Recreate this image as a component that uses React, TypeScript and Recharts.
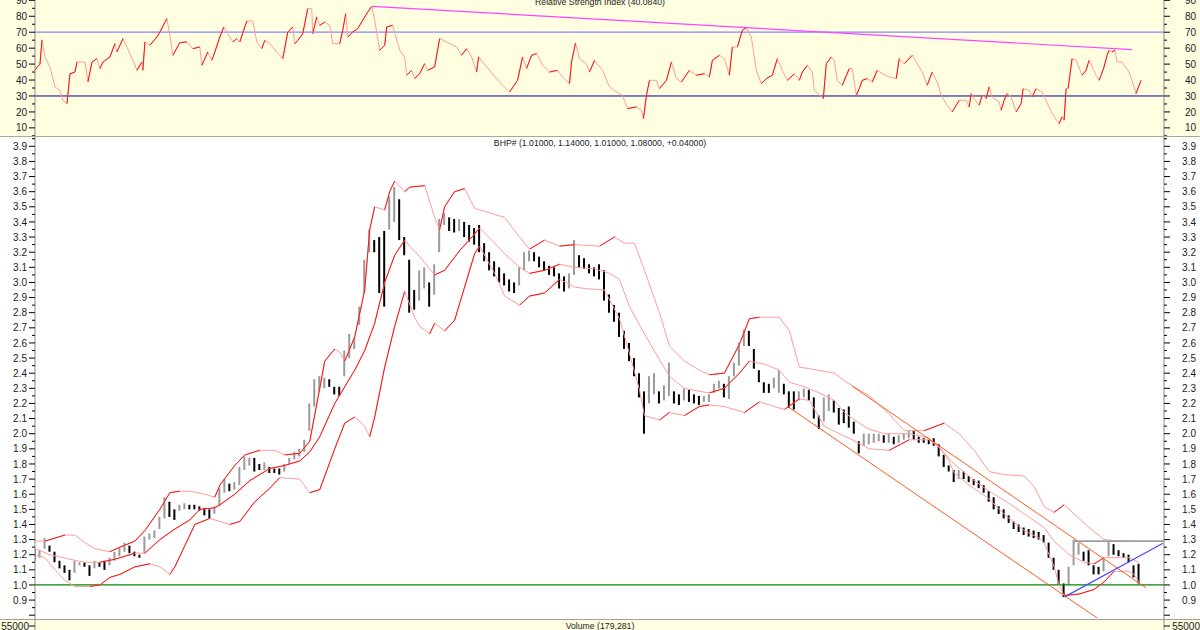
import React from 'react';
import { ComposedChart, Line, Bar, Cell, XAxis, YAxis, ReferenceLine } from 'recharts';

const FONT = '"Liberation Sans", Arial, sans-serif';

const priceTitle = 'BHP# (1.01000, 1.14000, 1.01000, 1.08000, +0.04000)';
const rsiTitle = 'Relative Strength Index (40.0840)';
const volumeTitle = 'Volume (179,281)';
const volumeTickLabel = '55000';

// bar-by-bar highs and lows (index 0..221)
const highs = [
  1.24,1.23,1.31,1.26,1.22,1.16,1.13,1.10,1.16,1.15,
  1.15,1.13,1.16,1.15,1.16,1.18,1.22,1.25,1.28,1.26,
  1.22,1.20,1.32,1.34,1.36,1.45,1.58,1.55,1.50,1.53,
  1.54,1.53,1.53,1.52,1.51,1.50,1.52,1.64,1.70,1.67,
  1.68,1.78,1.85,1.84,1.84,1.80,1.81,1.78,1.77,1.77,
  1.80,1.84,1.88,1.90,1.96,2.20,2.36,2.38,2.37,2.36,
  2.31,2.31,2.55,2.66,2.63,2.84,3.15,3.35,3.28,3.30,
  3.34,3.57,3.63,3.55,3.30,3.15,2.95,3.08,3.10,3.00,
  3.12,3.42,3.46,3.43,3.42,3.42,3.40,3.38,3.36,3.38,
  3.26,3.20,3.14,3.10,3.06,3.02,3.00,3.10,3.20,3.21,
  3.20,3.17,3.14,3.11,3.10,3.06,3.04,3.06,3.28,3.18,
  3.16,3.12,3.10,3.12,3.08,2.92,2.85,2.80,2.68,2.60,
  2.50,2.40,2.28,2.38,2.40,2.28,2.32,2.47,2.28,2.26,
  2.30,2.29,2.26,2.25,2.25,2.26,2.33,2.35,2.33,2.38,
  2.47,2.60,2.69,2.68,2.56,2.42,2.34,2.33,2.37,2.42,
  2.33,2.28,2.28,2.28,2.30,2.29,2.24,2.12,2.24,2.26,
  2.22,2.17,2.16,2.18,2.08,1.95,2.00,2.00,2.00,2.00,
  1.99,2.00,1.98,1.99,2.00,2.02,2.02,1.98,1.97,1.96,
  1.97,1.93,1.86,1.79,1.76,1.76,1.75,1.72,1.70,1.69,
  1.66,1.62,1.58,1.52,1.50,1.46,1.42,1.40,1.38,1.37,
  1.36,1.35,1.33,1.28,1.18,1.10,1.01,1.12,1.30,1.28,
  1.22,1.23,1.13,1.12,1.18,1.29,1.27,1.23,1.21,1.20,
  1.13,1.14,
];
const lows = [
  1.16,1.18,1.24,1.22,1.15,1.11,1.08,1.03,1.08,1.13,
  1.12,1.06,1.11,1.12,1.10,1.13,1.16,1.19,1.22,1.21,
  1.19,1.18,1.21,1.30,1.31,1.37,1.44,1.45,1.43,1.49,
  1.50,1.50,1.50,1.49,1.46,1.44,1.47,1.52,1.61,1.62,
  1.63,1.66,1.76,1.79,1.75,1.76,1.76,1.74,1.74,1.73,
  1.75,1.80,1.83,1.85,1.88,2.02,2.18,2.28,2.30,2.31,
  2.26,2.25,2.38,2.50,2.56,2.72,2.93,3.20,3.20,2.93,
  2.84,3.35,3.40,3.28,3.18,2.80,2.82,2.88,2.96,2.84,
  2.92,3.20,3.38,3.34,3.33,3.34,3.30,3.27,3.25,3.20,
  3.14,3.08,3.04,3.00,2.98,2.94,2.93,2.98,3.08,3.14,
  3.14,3.10,3.08,3.05,3.04,2.96,2.94,2.96,3.05,3.10,
  3.09,3.06,3.04,3.02,2.88,2.80,2.74,2.64,2.56,2.48,
  2.38,2.24,2.00,2.20,2.26,2.20,2.22,2.25,2.20,2.19,
  2.22,2.21,2.20,2.19,2.21,2.21,2.27,2.30,2.24,2.23,
  2.38,2.45,2.58,2.58,2.43,2.34,2.27,2.27,2.30,2.27,
  2.26,2.17,2.16,2.22,2.24,2.22,2.10,2.03,2.08,2.15,
  2.14,2.06,2.07,2.04,2.00,1.87,1.92,1.93,1.94,1.95,
  1.94,1.94,1.93,1.94,1.96,1.97,1.96,1.94,1.94,1.93,
  1.92,1.85,1.78,1.75,1.68,1.70,1.70,1.68,1.66,1.64,
  1.61,1.55,1.50,1.47,1.44,1.41,1.37,1.35,1.33,1.32,
  1.31,1.30,1.28,1.18,1.10,1.00,0.92,1.00,1.13,1.20,
  1.16,1.13,1.07,1.07,1.09,1.19,1.20,1.19,1.18,1.15,
  1.05,1.01,
];

// Bollinger bands: [bar index, price]
const upperBand: [number, number][] = [
  [0,1.29],[2,1.29],[4,1.31],[6,1.33],[8,1.33],[10,1.28],[12,1.24],[15,1.22],[17,1.25],[20,1.29],
  [22,1.36],[25,1.5],[27,1.61],[29,1.62],[31,1.62],[34,1.6],[36,1.58],[37,1.66],[40,1.79],[42,1.86],
  [45,1.89],[48,1.89],[50,1.86],[53,1.87],[55,1.95],[57,2.3],[58,2.48],[60,2.56],[61,2.54],[62,2.48],
  [64,2.64],[66,2.95],[67,3.35],[68,3.5],[70,3.48],[71,3.6],[72,3.67],[74,3.6],[75,3.63],[78,3.64],
  [80,3.43],[81,3.35],[82,3.5],[84,3.6],[86,3.62],[88,3.49],[90,3.47],[94,3.43],[97,3.3],[99,3.22],
  [102,3.28],[105,3.24],[108,3.25],[113,3.24],[116,3.3],[118,3.26],[120,3.26],[122,3.08],[125,2.8],[127,2.58],
  [130,2.48],[133,2.42],[135,2.39],[138,2.4],[141,2.59],[143,2.76],[145,2.77],[149,2.77],[151,2.68],[153,2.44],
  [155,2.43],[160,2.4],[162,2.35],[163,2.33],[167,2.25],[171,2.13],[174,2.02],[178,2.02],[182,2.07],[185,2.0],
  [188,1.89],[191,1.75],[194,1.73],[198,1.72],[200,1.65],[202,1.52],[204,1.48],[206,1.53],[209,1.44],[211,1.38],
  [214,1.3],[217,1.29],[220,1.29],
];
const middleBand: [number, number][] = [
  [0,1.24],[3,1.2],[7,1.17],[10,1.15],[13,1.15],[16,1.17],[20,1.21],[22,1.21],[25,1.3],[28,1.37],
  [31,1.43],[33,1.5],[36,1.51],[37,1.53],[40,1.6],[43,1.69],[47,1.77],[50,1.79],[53,1.82],[55,1.88],
  [57,1.98],[60,2.2],[64,2.42],[66,2.55],[68,2.73],[70,3.0],[72,3.18],[74,3.28],[75,3.24],[77,3.17],
  [78,3.13],[80,3.05],[82,3.08],[85,3.21],[88,3.32],[89,3.36],[92,3.26],[94,3.19],[97,3.1],[99,3.06],
  [102,3.08],[105,3.12],[108,3.1],[112,3.09],[115,3.06],[117,3.02],[119,2.84],[122,2.66],[125,2.49],[127,2.38],
  [130,2.3],[133,2.28],[135,2.27],[138,2.3],[141,2.4],[143,2.48],[146,2.46],[149,2.42],[151,2.34],[154,2.31],
  [157,2.27],[160,2.22],[162,2.14],[165,2.07],[167,2.03],[170,2.0],[175,2.0],[179,1.97],[181,1.91],[184,1.8],
  [188,1.69],[191,1.62],[195,1.54],[198,1.47],[202,1.38],[204,1.29],[207,1.2],[210,1.15],[212,1.14],[214,1.18],
  [216,1.18],[219,1.18],[221,1.15],
];
const lowerBand: [number, number][] = [
  [0,1.2],[2,1.18],[4,1.1],[6,1.03],[8,0.99],[11,0.99],[13,1.0],[15,1.05],[17,1.07],[20,1.12],
  [23,1.14],[25,1.12],[27,1.07],[28,1.12],[30,1.26],[32,1.4],[35,1.44],[37,1.42],[39,1.4],[41,1.42],
  [44,1.55],[47,1.64],[49,1.71],[53,1.7],[55,1.61],[57,1.63],[60,1.9],[62,2.07],[64,2.11],[66,2.05],
  [67,1.98],[68,2.11],[70,2.44],[72,2.71],[74,2.94],[76,2.77],[77,2.71],[79,2.66],[80,2.73],[82,2.68],
  [84,2.75],[86,2.97],[88,3.19],[89,3.24],[92,3.06],[94,2.91],[97,2.85],[99,2.91],[102,2.93],[105,3.02],
  [108,2.97],[110,2.96],[114,2.95],[117,2.76],[119,2.53],[121,2.29],[122,2.12],[125,2.09],[127,2.14],[130,2.12],
  [133,2.18],[135,2.19],[138,2.18],[142,2.14],[145,2.21],[147,2.19],[150,2.16],[153,2.23],[155,2.22],[158,2.05],
  [161,2.0],[163,1.97],[167,1.9],[171,1.89],[175,1.96],[179,1.96],[181,1.91],[183,1.82],[184,1.74],[187,1.66],
  [191,1.57],[193,1.5],[195,1.44],[198,1.36],[201,1.31],[202,1.28],[204,1.12],[205,1.0],[206,0.93],[209,0.94],
  [212,0.97],[214,1.02],[216,1.09],[219,1.09],[220,1.07],[221,1.02],
];

// RSI: [bar index, value]
const rsiPoints: [number, number][] = [
  [0,46],[0.4,48],[1,50],[1.4,65],[2,54.5],[3,48],[4,35.7],[5,33.6],[5.6,27],[6.4,25.2],
  [7,44],[8,45],[8.4,51.3],[10,51.3],[10.6,38.8],[11.4,51.3],[12.4,53.4],[13,47.2],[13.6,51.3],[15,54.5],
  [16,62.8],[16.4,57.6],[17.6,66],[18.4,60.7],[19.6,52.4],[20.4,46.1],[21.4,51.3],[21.6,46.1],[22,63.9],[23,61.8],
  [24.4,67],[25,70.1],[26.4,78.5],[27,68],[27.6,55.5],[29,63.5],[30.4,63.9],[31.6,59.7],[33,60.7],[33.4,49.2],
  [34,53.4],[34.6,57.6],[35.4,52.4],[36,57.6],[37,67],[37.8,73.3],[38.6,69.1],[39.6,63.9],[40.4,66],[41,63.9],
  [42.4,77],[43.6,77],[44.4,63.9],[45.4,59.7],[46,64.9],[47,62.8],[48.4,57.6],[49.6,53.4],[50.6,70.1],[51.6,73.3],
  [52,62.8],[52.6,64.9],[53.6,69.1],[54.6,84.8],[55.4,84.8],[55.6,69.1],[56.4,79.6],[57,74.3],[58,76.4],[59,74.3],
  [59.6,62.8],[61,62.8],[61.6,71.2],[62.2,81.6],[62.6,67],[63.6,70.1],[64.6,72.2],[66.4,81.6],[67.4,86.2],[68,77.5],
  [69,58.7],[70,61.8],[70.4,73.3],[71.6,74.3],[73,58.7],[74,54.5],[74.4,43],[75.4,46.1],[76,40.9],[77,44],
  [78,50.3],[78.6,46.1],[80,48.2],[81,66],[82.4,63.9],[84.4,60.7],[85.4,55.5],[86.4,59.7],[87.4,54.5],[88.4,45],
  [88.8,54.5],[90.4,48.2],[92.4,40.9],[93.6,36.7],[95,32.5],[96.6,39.8],[97.6,54.5],[98.4,47.2],[99.4,55.5],[100.4,56.6],
  [101.6,49.2],[103,45],[104.6,46.1],[105.6,41.9],[107,37.8],[107.4,51.3],[108.2,63.2],[109,53.4],[110.4,50.3],[111,45],
  [112,52.4],[113.6,46.1],[115,35.7],[116.4,32.5],[117.6,30.4],[118.6,22.1],[120.4,23.1],[121.4,21],[121.8,15.8],[122.4,30.4],
  [123,39.8],[124.4,39.8],[125,34.6],[126.4,39.8],[127.4,51.3],[128.4,40.9],[129.4,38.8],[131,46.1],[132.4,43],[134,44],
  [135,41.9],[135.6,52.4],[137,55.5],[138,53.4],[139,43],[139.6,60.7],[140.6,60.7],[141.6,71.2],[142.4,72.9],[143.4,67],
  [144.4,46.1],[145.4,37.8],[146.4,40.9],[147.6,43],[148.6,53.4],[149.6,46.1],[150.6,39.8],[152,44],[153,39.8],[153.6,45],
  [154.6,49.2],[155.6,45],[156,33.6],[157.4,29.4],[157.8,28.3],[158.4,50.3],[159.4,54.5],[160,52.4],[160.6,39.8],[161.6,36.7],
  [163,47.2],[163.6,47.2],[164.4,30.4],[165,34.6],[165.6,39.8],[166.6,40.9],[167.6,38.8],[168.6,46.1],[169.6,44],[171,41.9],
  [172.4,40.9],[173,53.4],[174,50.3],[175.6,55.5],[176.6,50.3],[177.6,45],[178.6,36.7],[179.6,45],[180.6,38.8],[181.4,30.4],
  [182.4,25.2],[183.6,20],[185,27.3],[186.4,27.3],[187,23.1],[187.4,31.5],[188.4,26.3],[189,24.2],[189.6,30.4],[190.4,28.3],
  [191,35.7],[191.6,29.4],[193,26.3],[193.4,21],[194,27.3],[194.6,31.5],[195.4,29.4],[196.4,20],[197.4,25.2],[197.8,34.6],
  [199,33.6],[199.6,29.4],[200.4,34.6],[201.6,32.5],[203.6,18.9],[205,12.7],[205.6,16.9],[206,14.8],[206.4,34.6],[206.8,34.6],
  [207.6,53.4],[208.4,52.4],[209.6,43],[210.4,46.1],[211,52.4],[211.6,48.2],[212.4,43],[213,39.8],[213.4,43],[214,48.2],
  [214.6,55.5],[215,58.7],[215.6,57.6],[216.2,58.7],[216.6,51.3],[217.6,51.3],[219,45],[219.6,39.8],[220.4,31.5],[221.4,39.8],
];

// drawn trend lines: [bar index, value]
const rsiTrend: [number, number][] = [[67.5, 86.2], [219.6, 59.1]];
const channelUpper: [number, number][] = [[163.5, 2.316], [222.4, 0.981]];
const channelLower: [number, number][] = [[150.7, 2.179], [212.6, 0.782]];
const supportLine: [number, number][] = [[206.2, 0.923], [225.8, 1.276]];
const resistanceLine: [number, number][] = [[207.8, 1.29], [226, 1.29]];
const baseLevel = 1.0;
const rsiUpper = 70;
const rsiLower = 30;

const priceTicks = [
  0.8,0.85,0.9,0.95,1.0,1.05,1.1,1.15,1.2,1.25,1.3,1.35,1.4,1.45,1.5,1.55,1.6,1.65,1.7,1.75,
  1.8,1.85,1.9,1.95,2.0,2.05,2.1,2.15,2.2,2.25,2.3,2.35,2.4,2.45,2.5,2.55,2.6,2.65,2.7,2.75,
  2.8,2.85,2.9,2.95,3.0,3.05,3.1,3.15,3.2,3.25,3.3,3.35,3.4,3.45,3.5,3.55,3.6,3.65,3.7,3.75,
  3.8,3.85,3.9,3.95,
];
const rsiTicks = [5,10,15,20,25,30,35,40,45,50,55,60,65,70,75,80,85,90];

const X_DOMAIN: [number, number] = [0, 226];
const PRICE_DOMAIN: [number, number] = [0.775, 3.9615];
const RSI_DOMAIN: [number, number] = [4.9, 90.2];

const RISE = '#FF1010';
const FALL = '#FF9C9C';

type Pt = { x: number; v: number | null };

function toRows(pairs: [number, number][]): Pt[] {
  return pairs.map(([x, v]) => ({ x, v }));
}

// split rising stretches into two alternating series so they can be drawn in a stronger colour
function risingRuns(pairs: [number, number][]): [Pt[], Pt[]] {
  const a: Pt[] = pairs.map(([x]) => ({ x, v: null }));
  const b: Pt[] = pairs.map(([x]) => ({ x, v: null }));
  let run = -1;
  let inRun = false;
  for (let i = 1; i < pairs.length; i++) {
    if (pairs[i][1] > pairs[i - 1][1]) {
      if (!inRun) { run++; inRun = true; }
      const t = run % 2 === 0 ? a : b;
      t[i - 1].v = pairs[i - 1][1];
      t[i].v = pairs[i][1];
    } else {
      inRun = false;
    }
  }
  return [a, b];
}

const barRows = highs.map((h, i) => ({ x: i, range: [lows[i], h] as [number, number] }));
const barColors = highs.map((h, i) => {
  if (i === 0) return '#000000';
  const mid = (h + lows[i]) / 2;
  const prev = (highs[i - 1] + lows[i - 1]) / 2;
  return mid > prev ? '#9A9A9A' : '#000000';
});

const rsiRows = (() => {
  const [a, b] = risingRuns(rsiPoints);
  return rsiPoints.map(([x, v], i) => ({ x, v, a: a[i].v, b: b[i].v }));
})();

const isMultiple = (v: number, step: number) => Math.abs(v / step - Math.round(v / step)) < 1e-6;

function makeTick(side: 'L' | 'R', kind: 'price' | 'rsi') {
  return (props: any) => {
    const { x, y, payload } = props;
    const v = payload.value as number;
    const major = kind === 'price' ? isMultiple(v, 0.1) : isMultiple(v, 10);
    const showLabel = major && (kind === 'price' ? v > 0.85 : v >= 10);
    const len = major ? 6 : 3;
    const label = kind === 'price' ? v.toFixed(1) : String(v);
    if (side === 'L') {
      return (
        <g>
          <line x1={x - len} x2={x} y1={y} y2={y} stroke="#000" strokeWidth={1} />
          {showLabel && (
            <text x={x - 8} y={y} dy={3.6} textAnchor="end" fontSize={10} fontFamily={FONT} fill="#1a1a1a">{label}</text>
          )}
        </g>
      );
    }
    return (
      <g>
        <line x1={x} x2={x + len} y1={y} y2={y} stroke="#000" strokeWidth={1} />
        {showLabel && (
          <text x={x + 32} y={y} dy={3.6} textAnchor="end" fontSize={10} fontFamily={FONT} fill="#1a1a1a">{label}</text>
        )}
      </g>
    );
  };
}

const upperRows = toRows(upperBand);
const middleRows = toRows(middleBand);
const lowerRows = toRows(lowerBand);
const upperRuns = risingRuns(upperBand);
const middleRuns = risingRuns(middleBand);
const lowerRuns = risingRuns(lowerBand);

const seg = (p: [number, number][]) => p.map(([x, y]) => ({ x, y }));

export default function App() {
  const axisLine = { stroke: '#8a8a8a', strokeWidth: 1 };
  const bandLine = (key: string, data: Pt[], color: string) => (
    <Line key={key} yAxisId="L" data={data} dataKey="v" type="linear" stroke={color} strokeWidth={1}
      dot={false} activeDot={false} isAnimationActive={false} connectNulls={false} />
  );
  return (
    <div style={{ position: 'fixed', left: 0, top: 0, width: 1200, height: 630, background: '#fff', overflow: 'hidden', fontFamily: FONT }}>
      {/* RSI panel */}
      <div style={{ position: 'absolute', left: 0, top: 0, width: 1200, height: 136, background: '#FFFEE0', borderBottom: '1px solid #A9A99A' }}>
        <ComposedChart width={1200} height={136} data={rsiRows} margin={{ top: 0, right: 0, bottom: 0, left: 0 }}>
          <XAxis type="number" dataKey="x" domain={X_DOMAIN} hide allowDataOverflow />
          <YAxis yAxisId="L" orientation="left" width={35} domain={RSI_DOMAIN} ticks={rsiTicks} interval={0}
            allowDataOverflow tickLine={false} tickSize={0} tickMargin={0} axisLine={axisLine} tick={makeTick('L', 'rsi')} />
          <YAxis yAxisId="R" orientation="right" width={36} domain={RSI_DOMAIN} ticks={rsiTicks} interval={0}
            allowDataOverflow tickLine={false} tickSize={0} tickMargin={0} axisLine={axisLine} tick={makeTick('R', 'rsi')} />
          <ReferenceLine yAxisId="L" y={rsiUpper} stroke="#8484FF" strokeWidth={1.2} />
          <ReferenceLine yAxisId="L" y={rsiLower} stroke="#000090" strokeWidth={1} />
          <Line yAxisId="L" dataKey="v" stroke={FALL} strokeWidth={1} dot={false} activeDot={false} isAnimationActive={false} />
          <Line yAxisId="L" dataKey="a" stroke={RISE} strokeWidth={1} dot={false} activeDot={false} isAnimationActive={false} connectNulls={false} />
          <Line yAxisId="L" dataKey="b" stroke={RISE} strokeWidth={1} dot={false} activeDot={false} isAnimationActive={false} connectNulls={false} />
          <ReferenceLine yAxisId="L" segment={seg(rsiTrend)} stroke="#FF44FF" strokeWidth={1.2} ifOverflow="visible" />
        </ComposedChart>
        <svg width={1200} height={10} style={{ position: 'absolute', left: 0, top: 0 }}>
          <text x={600} y={5} textAnchor="middle" fontSize={8.7} fontFamily={FONT} fill="#222">{rsiTitle}</text>
        </svg>
      </div>

      {/* price panel */}
      <div style={{ position: 'absolute', left: 0, top: 137, width: 1200, height: 482, background: '#fff', borderBottom: '1px solid #A0A0A0' }}>
        <ComposedChart width={1200} height={482} data={barRows} margin={{ top: 0, right: 0, bottom: 0, left: 0 }}>
          <XAxis type="number" dataKey="x" domain={X_DOMAIN} hide allowDataOverflow />
          <YAxis yAxisId="L" orientation="left" width={35} domain={PRICE_DOMAIN} ticks={priceTicks} interval={0}
            allowDataOverflow tickLine={false} tickSize={0} tickMargin={0} axisLine={axisLine} tick={makeTick('L', 'price')} />
          <YAxis yAxisId="R" orientation="right" width={36} domain={PRICE_DOMAIN} ticks={priceTicks} interval={0}
            allowDataOverflow tickLine={false} tickSize={0} tickMargin={0} axisLine={axisLine} tick={makeTick('R', 'price')} />
          <ReferenceLine yAxisId="L" y={baseLevel} stroke="#008A00" strokeWidth={1.2} />
          <Bar yAxisId="L" dataKey="range" barSize={2} isAnimationActive={false}>
            {barRows.map((r, i) => (
              <Cell key={i} fill={barColors[i]} />
            ))}
          </Bar>
          {bandLine('u', upperRows, FALL)}
          {bandLine('ua', upperRuns[0], RISE)}
          {bandLine('ub', upperRuns[1], RISE)}
          {bandLine('m', middleRows, FALL)}
          {bandLine('ma', middleRuns[0], RISE)}
          {bandLine('mb', middleRuns[1], RISE)}
          {bandLine('l', lowerRows, FALL)}
          {bandLine('la', lowerRuns[0], RISE)}
          {bandLine('lb', lowerRuns[1], RISE)}
          <ReferenceLine yAxisId="L" segment={seg(channelUpper)} stroke="#FF5A28" strokeWidth={1} ifOverflow="visible" />
          <ReferenceLine yAxisId="L" segment={seg(channelLower)} stroke="#FF5A28" strokeWidth={1} ifOverflow="visible" />
          <ReferenceLine yAxisId="L" segment={seg(resistanceLine)} stroke="#9C9C9C" strokeWidth={1.6} ifOverflow="visible" />
          <ReferenceLine yAxisId="L" segment={seg(supportLine)} stroke="#4A4AFF" strokeWidth={1.2} ifOverflow="visible" />
        </ComposedChart>
        <svg width={1200} height={12} style={{ position: 'absolute', left: 0, top: 0 }}>
          <text x={600} y={9} textAnchor="middle" fontSize={8.7} fontFamily={FONT} fill="#222">{priceTitle}</text>
        </svg>
      </div>

      {/* volume panel (top edge only visible) */}
      <div style={{ position: 'absolute', left: 0, top: 620, width: 1200, height: 10, background: '#FFFEE0' }}>
        <svg width={1200} height={10} style={{ position: 'absolute', left: 0, top: 0 }}>
          <line x1={35} x2={35} y1={0} y2={10} stroke="#8a8a8a" />
          <line x1={1164} x2={1164} y1={0} y2={10} stroke="#8a8a8a" />
          <line x1={29} x2={35} y1={6} y2={6} stroke="#000" />
          <line x1={1164} x2={1170} y1={6} y2={6} stroke="#000" />
          <text x={29} y={9.5} textAnchor="end" fontSize={10} fontFamily={FONT} fill="#1a1a1a">{volumeTickLabel}</text>
          <text x={1200} y={9.5} textAnchor="end" fontSize={10} fontFamily={FONT} fill="#1a1a1a">{volumeTickLabel}</text>
          <text x={600} y={9} textAnchor="middle" fontSize={8.7} fontFamily={FONT} fill="#222">{volumeTitle}</text>
        </svg>
      </div>
    </div>
  );
}
